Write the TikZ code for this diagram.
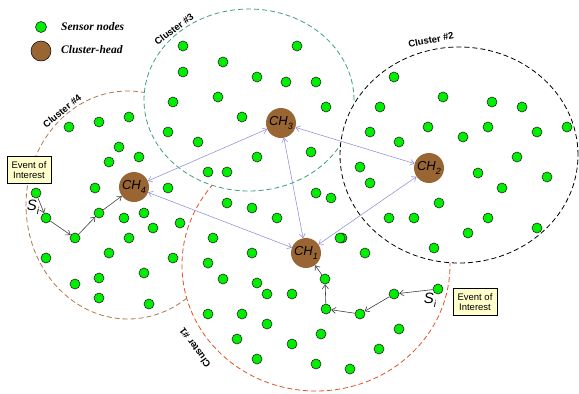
\documentclass[tikz,border=0pt]{standalone}
\usepackage{fontspec}
\setmainfont{Liberation Serif}
\setsansfont{Liberation Sans}
\usetikzlibrary{arrows.meta}
\definecolor{sngreen}{RGB}{0,238,0}
\definecolor{chbrown}{RGB}{153,102,51}
\definecolor{cgreen}{RGB}{60,160,120}
\definecolor{cred}{RGB}{226,80,36}
\definecolor{cbrown}{RGB}{176,120,70}
\definecolor{linkblue}{RGB}{135,135,215}
\definecolor{evfill}{RGB}{255,255,204}
\newcommand\chlab[1]{CH\raisebox{-3.5pt}{\fontsize{9}{9}\selectfont #1}}
\newcommand\silab{S\raisebox{-4pt}{\fontsize{10}{10}\selectfont i}}
\begin{document}
\begin{tikzpicture}[x=1pt,y=-1pt,
  sn/.style={circle,draw=black!85,fill=sngreen,line width=0.6pt,minimum size=10pt,inner sep=0pt},
  chnode/.style={circle,fill=chbrown,minimum size=30pt,inner sep=0pt,font=\sffamily\itshape\fontsize{13}{13}\selectfont},
  cluster/.style={dashed,dash pattern=on 5pt off 3pt,line width=0.8pt,fill=white},
  clab/.style={font=\sffamily\bfseries\fontsize{9.5}{10}\selectfont,inner sep=0pt},
  link/.style={draw=linkblue,line width=0.5pt,{Straight Barb[length=4pt,width=6pt]}-{Straight Barb[length=4pt,width=6pt]}},
  hop/.style={draw=black!75,line width=0.6pt,-{Straight Barb[length=4pt,width=6pt]}},
  evbox/.style={draw=black,line width=0.6pt,fill=evfill,align=center,inner sep=1.5pt,minimum width=44pt,minimum height=27pt,font=\sffamily\fontsize{9.5}{10.5}\selectfont},
  silabel/.style={font=\sffamily\itshape\fontsize{15}{15}\selectfont,inner sep=0pt},
  legtext/.style={font=\bfseries\itshape\fontsize{11.5}{12}\selectfont,anchor=west,inner sep=0pt}]
\useasboundingbox (0,0) rectangle (579,394);

% clusters (stacked, white filled)
\draw[cluster,draw=cbrown] (128,205) ellipse [x radius=102pt, y radius=114pt];
\draw[cluster,draw=cred] (316,265) ellipse [x radius=134pt, y radius=126pt];
\draw[cluster,draw=cgreen] (249,100) ellipse [x radius=105pt, y radius=91pt];
\draw[cluster,draw=black] (459,155) ellipse [x radius=119pt, y radius=108pt];

% cluster labels
\node[clab,rotate=37] (l3) at (174,29) {Cluster \#3};
\node[clab,rotate=11] (l2) at (431,40) {Cluster \#2};
\node[clab,rotate=39] (l4) at (62,111) {Cluster \#4};
\node[clab,rotate=126] (l1) at (195,348) {Cluster \#1};

% legend
\node[sn,minimum size=11pt] (legsn) at (41,27) {};
\node[circle,fill=chbrown,draw=black,line width=0.5pt,minimum size=20pt,inner sep=0pt] (legch) at (41,51) {};
\node[legtext] (legt1) at (61,27) {Sensor nodes};
\node[legtext] (legt2) at (61,50) {Cluster-head};

% sensor nodes
\foreach \x/\y [count=\i] in {
 183/46,297/46,223/62,183/72,257/77,286/82,316/82,173/102,218/97,326/107,242/117,168/132,198/142,257/157,311/152,208/172,227/172,
 394/77,443/97,492/102,522/107,380/107,370/132,428/127,488/127,399/142,463/137,537/132,567/127,517/157,360/167,370/183,478/173,547/177,502/188,439/203,389/218,414/218,488/218,468/233,537/228,342/238,365/253,434/248,
 316/193,331/198,252/208,277/218,340/238,252/253,257/283,227/203,180/223,213/238,208/263,223/279,267/294,292/294,208/314,242/314,267/324,321/334,237/339,292/344,257/359,316/364,350/369,399/329,379/349,
 69/127,99/122,129/117,119/147,139/157,109/162,95/188,168/188,124/218,144/213,153/228,129/238,109/253,46/258,173/258,144/273,75/284,99/278,99/298,149/304}
 \node[sn] (s\i) at (\x,\y) {};

% chain nodes
\node[sn] (a1) at (36,193) {};
\node[sn] (a2) at (46,218) {};
\node[sn] (a3) at (75,238) {};
\node[sn] (a4) at (99,213) {};
\node[sn] (b1) at (438,289) {};
\node[sn] (b2) at (394,294) {};
\node[sn] (b3) at (360,314) {};
\node[sn] (b4) at (326,309) {};
\node[sn] (b5) at (325,279) {};

% cluster heads
\node[chnode] (ch3) at (281,123) {\chlab{3}};
\node[chnode] (ch2) at (429,168) {\chlab{2}};
\node[chnode] (ch4) at (134,187) {\chlab{4}};
\node[chnode] (ch1) at (306,253) {\chlab{1}};

% inter-cluster links
\draw[link] (ch4) -- (ch3);
\draw[link] (ch3) -- (ch2);
\draw[link] (ch3) -- (ch1);
\draw[link] (ch2) -- (ch1);
\draw[link] (ch4) -- (ch1);

% hops
\draw[hop] (a1) -- (a2);
\draw[hop] (a2) -- (a3);
\draw[hop] (a3) -- (a4);
\draw[hop] (a4) -- (ch4);
\draw[hop] (b1) -- (b2);
\draw[hop] (b2) -- (b3);
\draw[hop] (b3) -- (b4);
\draw[hop] (b4) -- (b5);
\draw[hop] (b5) -- (ch1);

% labels
\node[silabel] (si1) at (33,207) {\silab};
\node[silabel] (si2) at (430,300) {\silab};
\node[evbox] (ev1) at (29,170) {Event of\\Interest};
\node[evbox] (ev2) at (475,302) {Event of\\Interest};
\end{tikzpicture}
\end{document}
